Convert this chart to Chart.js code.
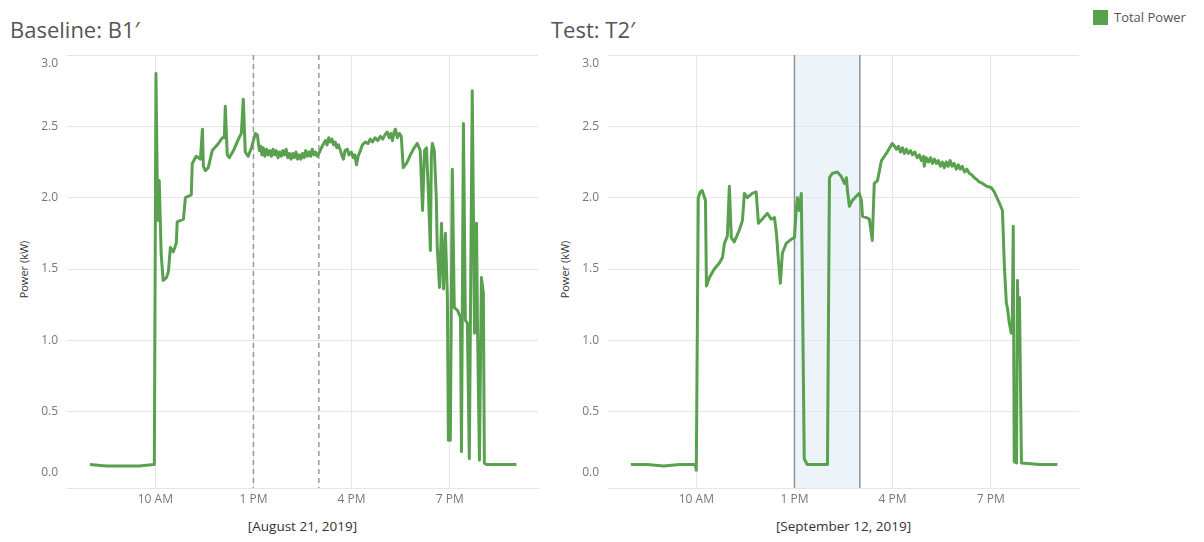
<!DOCTYPE html>
<html>
<head>
<meta charset="utf-8">
<script src="https://cdn.jsdelivr.net/npm/chart.js@4"></script>
<style>
  body { margin: 0; width: 1204px; height: 542px; background: #fff; position: relative; overflow: hidden; font-family: "Open Sans", sans-serif; }
  .panel { position: absolute; top: 0; width: 545px; height: 542px; }
  .title { position: absolute; top: 14px; font-size: 22px; color: #555; white-space: nowrap; }
  .xtitle { position: absolute; top: 517px; width: 471px; text-align: center; font-size: 13.5px; color: #333; }
  .ytitle { position: absolute; width: 100px; text-align: center; font-size: 11px; color: #333; transform: rotate(-90deg); }
  .legend { position: absolute; left: 1093px; top: 8px; font-size: 13px; color: #555; }
  .legend span { display: inline-block; width: 15px; height: 15px; background: #59a14f; vertical-align: middle; margin-right: 6px; position: relative; top: -1px; }
</style>
</head>
<body>
<div class="title" style="left:10px">Baseline: B1′</div>
<div class="title" style="left:551px">Test: T2′</div>
<div class="legend"><span></span>Total Power</div>
<div class="ytitle" style="left:-27px; top:262px">Power (kW)</div>
<div class="ytitle" style="left:514px; top:262px">Power (kW)</div>
<div class="xtitle" style="left:67px">[August 21, 2019]</div>
<div class="xtitle" style="left:608px">[September 12, 2019]</div>
<div class="panel" style="left:0"><canvas id="baselineChart"></canvas></div>
<div class="panel" style="left:541px"><canvas id="testChart"></canvas></div>

<script>
// axis ticks
const hourTicks = [10, 13, 16, 19];
const hourLabels = ['10 AM', '1 PM', '4 PM', '7 PM'];
const powerTicks = [0, 0.5, 1, 1.5, 2, 2.5, 3];

// Baseline B1' - August 21, 2019 (hour of day, kW)
const baselineHours = [
  8.00, 8.50, 9.00, 9.50, 9.97, 10.02, 10.06, 10.09, 10.12, 10.18,
  10.24, 10.34, 10.40, 10.46, 10.55, 10.64, 10.67, 10.86, 10.92, 11.10,
  11.13, 11.25, 11.38, 11.44, 11.47, 11.53, 11.62, 11.74, 11.93, 12.05,
  12.11, 12.14, 12.20, 12.26, 12.39, 12.54, 12.63, 12.69, 12.75, 12.84,
  12.94, 13.06, 13.12, 13.18, 13.22, 13.26, 13.30, 13.35, 13.40, 13.45,
  13.50, 13.55, 13.60, 13.65, 13.70, 13.75, 13.80, 13.85, 13.90, 13.95,
  14.00, 14.05, 14.10, 14.15, 14.20, 14.25, 14.30, 14.35, 14.40, 14.45,
  14.50, 14.55, 14.60, 14.65, 14.70, 14.75, 14.80, 14.85, 14.90, 14.95,
  15.02, 15.10, 15.20, 15.25, 15.30, 15.35, 15.40, 15.45, 15.50, 15.55,
  15.60, 15.66, 15.70, 15.75, 15.80, 15.87, 15.92, 15.99, 16.05, 16.10,
  16.15, 16.20, 16.27, 16.33, 16.42, 16.50, 16.57, 16.64, 16.72, 16.80,
  16.88, 16.95, 17.02, 17.09, 17.15, 17.20, 17.25, 17.30, 17.34, 17.40,
  17.46, 17.52, 17.58, 17.68, 17.80, 17.89, 18.01, 18.10, 18.17, 18.23,
  18.29, 18.35, 18.41, 18.44, 18.47, 18.53, 18.59, 18.62, 18.69, 18.75,
  18.81, 18.87, 18.93, 18.96, 19.02, 19.08, 19.14, 19.24, 19.33, 19.36,
  19.42, 19.48, 19.54, 19.60, 19.69, 19.76, 19.82, 19.85, 19.91, 19.97,
  20.03, 20.06, 20.12, 20.55, 21.04
];
const baselinePower = [
  0.13, 0.12, 0.12, 0.12, 0.13, 2.87, 2.10, 1.84, 2.12, 1.60,
  1.42, 1.44, 1.48, 1.65, 1.62, 1.68, 1.83, 1.85, 2.00, 2.02,
  2.24, 2.29, 2.27, 2.48, 2.22, 2.19, 2.21, 2.33, 2.38, 2.42,
  2.42, 2.64, 2.30, 2.28, 2.33, 2.41, 2.45, 2.69, 2.32, 2.29,
  2.35, 2.45, 2.44, 2.33, 2.36, 2.30, 2.35, 2.29, 2.34, 2.30,
  2.33, 2.29, 2.34, 2.30, 2.33, 2.28, 2.32, 2.29, 2.33, 2.30,
  2.34, 2.28, 2.31, 2.27, 2.31, 2.28, 2.32, 2.27, 2.30, 2.27,
  2.31, 2.28, 2.33, 2.29, 2.32, 2.29, 2.34, 2.30, 2.32, 2.29,
  2.32, 2.36, 2.40, 2.37, 2.42, 2.39, 2.41, 2.37, 2.39, 2.35,
  2.37, 2.33, 2.30, 2.27, 2.33, 2.34, 2.30, 2.32, 2.28, 2.30,
  2.23, 2.29, 2.33, 2.37, 2.39, 2.38, 2.41, 2.39, 2.42, 2.40,
  2.43, 2.41, 2.44, 2.46, 2.42, 2.45, 2.40, 2.46, 2.48, 2.42,
  2.45, 2.43, 2.21, 2.24, 2.30, 2.34, 2.38, 2.33, 1.91, 2.33,
  2.35, 2.03, 1.63, 2.30, 2.38, 2.33, 2.00, 1.65, 1.37, 1.82,
  1.36, 1.75, 1.30, 0.30, 0.30, 2.20, 1.23, 1.21, 1.16, 0.22,
  2.52, 1.14, 1.12, 0.17, 2.75, 1.05, 1.82, 1.10, 0.16, 1.44,
  1.33, 0.14, 0.13, 0.13, 0.13
];
const baselineMarkers = [13, 15];

// Test T2' - September 12, 2019 (hour of day, kW)
const testHours = [
  8.00, 8.50, 9.00, 9.50, 9.97, 10.00, 10.06, 10.12, 10.18, 10.28,
  10.31, 10.40, 10.55, 10.70, 10.80, 10.86, 10.95, 11.01, 11.07, 11.16,
  11.31, 11.41, 11.47, 11.56, 11.71, 11.83, 11.90, 12.02, 12.17, 12.29,
  12.39, 12.45, 12.51, 12.57, 12.63, 12.75, 12.91, 13.00, 13.06, 13.09,
  13.15, 13.21, 13.24, 13.30, 13.39, 13.70, 14.01, 14.07, 14.16, 14.31,
  14.43, 14.53, 14.59, 14.62, 14.68, 14.77, 14.89, 14.98, 15.05, 15.08,
  15.20, 15.29, 15.38, 15.44, 15.54, 15.66, 15.81, 15.99, 16.06, 16.12,
  16.18, 16.24, 16.30, 16.36, 16.42, 16.48, 16.55, 16.61, 16.68, 16.75,
  16.82, 16.88, 16.95, 16.97, 17.03, 17.10, 17.16, 17.22, 17.28, 17.34,
  17.40, 17.46, 17.52, 17.58, 17.64, 17.70, 17.76, 17.82, 17.88, 17.95,
  18.01, 18.07, 18.13, 18.20, 18.27, 18.35, 18.42, 18.50, 18.56, 18.65,
  18.75, 18.88, 19.02, 19.11, 19.27, 19.36, 19.42, 19.48, 19.51, 19.57,
  19.63, 19.66, 19.69, 19.72, 19.79, 19.82, 19.85, 19.88, 19.94, 20.49,
  21.04
];
const testPower = [
  0.13, 0.13, 0.12, 0.13, 0.13, 0.09, 2.00, 2.04, 2.05, 1.98,
  1.38, 1.44, 1.50, 1.54, 1.58, 1.68, 1.73, 2.08, 1.72, 1.69,
  1.77, 1.84, 2.03, 2.00, 2.03, 2.04, 1.82, 1.85, 1.89, 1.85,
  1.86, 1.75, 1.56, 1.40, 1.61, 1.68, 1.71, 1.72, 1.93, 2.00,
  1.91, 2.03, 1.47, 0.17, 0.13, 0.13, 0.13, 2.14, 2.17, 2.18,
  2.15, 2.10, 2.14, 2.05, 1.94, 1.98, 2.01, 2.03, 1.98, 1.87,
  1.86, 1.85, 1.70, 2.10, 2.12, 2.26, 2.31, 2.38, 2.36, 2.34,
  2.36, 2.32, 2.35, 2.31, 2.34, 2.31, 2.33, 2.30, 2.32, 2.28,
  2.30, 2.26, 2.29, 2.22, 2.28, 2.25, 2.28, 2.24, 2.27, 2.24,
  2.26, 2.22, 2.25, 2.21, 2.25, 2.22, 2.26, 2.22, 2.24, 2.20,
  2.23, 2.20, 2.22, 2.18, 2.20, 2.17, 2.16, 2.14, 2.13, 2.11,
  2.10, 2.08, 2.07, 2.04, 1.96, 1.91, 1.51, 1.26, 1.23, 1.12,
  1.05, 1.10, 1.80, 0.15, 0.14, 1.42, 1.05, 1.30, 0.14, 0.13,
  0.13
];
const testWindow = [13, 15];

const FONT = '"Open Sans", sans-serif';
const GRID = '#e6e6e6';

// y labels, Tableau style: edge labels pushed inside the pane
const yLabels = {
  id: 'yLabels',
  afterDraw(chart) {
    const { ctx, chartArea, scales: { y } } = chart;
    ctx.save();
    ctx.font = '12px ' + FONT;
    ctx.fillStyle = '#777';
    ctx.textAlign = 'right';
    ctx.textBaseline = 'middle';
    powerTicks.forEach(v => {
      let py = y.getPixelForValue(v);
      py = Math.min(Math.max(py, chartArea.top + 9), chartArea.bottom - 15);
      ctx.fillText(v.toFixed(1), chartArea.left - 9, py);
    });
    ctx.restore();
  }
};

// dashed reference lines and shaded window
const panelMarks = {
  id: 'panelMarks',
  beforeDatasetsDraw(chart, args, opts) {
    const { ctx, chartArea, scales: { x } } = chart;
    ctx.save();
    if (opts.band) {
      const x0 = x.getPixelForValue(opts.band[0]);
      const x1 = x.getPixelForValue(opts.band[1]);
      ctx.fillStyle = 'rgba(218, 232, 243, 0.5)';
      ctx.fillRect(x0, chartArea.top, x1 - x0, chartArea.bottom - chartArea.top);
      ctx.strokeStyle = '#8e9296';
      ctx.lineWidth = 1.5;
      [x0, x1].forEach(px => {
        ctx.beginPath();
        ctx.moveTo(px, chartArea.top);
        ctx.lineTo(px, chartArea.bottom);
        ctx.stroke();
      });
    }
    if (opts.lines) {
      ctx.strokeStyle = '#9a9a9a';
      ctx.lineWidth = 1.5;
      ctx.setLineDash([5, 4]);
      opts.lines.forEach(h => {
        const px = x.getPixelForValue(h);
        ctx.beginPath();
        ctx.moveTo(px, chartArea.top);
        ctx.lineTo(px, chartArea.bottom);
        ctx.stroke();
      });
    }
    ctx.restore();
  }
};

function makeChart(id, hours, power, marks) {
  const ctx = document.getElementById(id).getContext('2d');
  return new Chart(ctx, {
    type: 'line',
    data: {
      datasets: [{
        label: 'Total Power',
        data: hours.map((h, i) => ({ x: h, y: power[i] })),
        borderColor: '#59a14f',
        borderWidth: 3,
        pointRadius: 0,
        tension: 0,
        borderJoinStyle: 'round'
      }]
    },
    options: {
      responsive: false,
      animation: false,
      layout: { padding: { top: 55, right: 7, left: 0, bottom: 0 } },
      plugins: {
        legend: { display: false },
        tooltip: { enabled: false },
        panelMarks: marks
      },
      scales: {
        x: {
          type: 'linear',
          min: 7.3,
          max: 21.7,
          afterBuildTicks: s => { s.ticks = hourTicks.map(v => ({ value: v })); },
          afterFit: s => { s.height = 54; },
          grid: { color: GRID, drawTicks: false },
          border: { display: true, color: GRID },
          ticks: {
            padding: 4,
            color: '#777',
            font: { size: 12, family: FONT },
            maxRotation: 0,
            autoSkip: false,
            callback: v => hourLabels[hourTicks.indexOf(v)]
          }
        },
        y: {
          min: -0.035,
          max: 3.0,
          afterBuildTicks: s => { s.ticks = powerTicks.map(v => ({ value: v })); },
          afterFit: s => { s.width = 67; },
          grid: {
            color: c => (c.tick && c.tick.value === 0) ? 'rgba(0,0,0,0)' : GRID,
            drawTicks: false
          },
          border: { display: false },
          ticks: { display: false }
        }
      }
    },
    plugins: [panelMarks, yLabels]
  });
}

document.getElementById('baselineChart').width = 545;
document.getElementById('baselineChart').height = 542;
document.getElementById('testChart').width = 545;
document.getElementById('testChart').height = 542;

makeChart('baselineChart', baselineHours, baselinePower, { lines: baselineMarkers });
makeChart('testChart', testHours, testPower, { band: testWindow });
</script>
</body>
</html>
